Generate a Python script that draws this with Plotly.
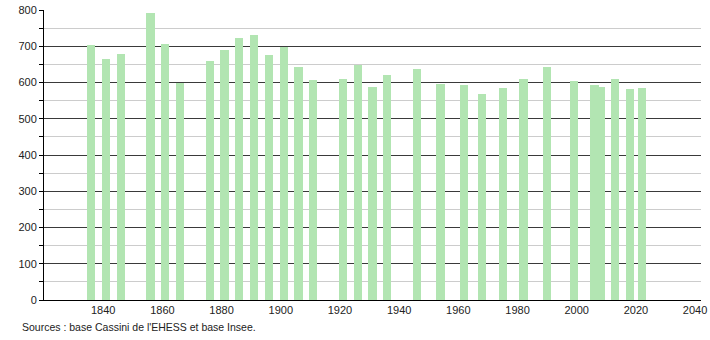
import plotly.graph_objects as go

years = [1836, 1841, 1846, 1856, 1861, 1866, 1876, 1881, 1886, 1891, 1896, 1901,
         1906, 1911, 1921, 1926, 1931, 1936, 1946, 1954, 1962, 1968, 1975, 1982,
         1990, 1999, 2006, 2008, 2013, 2018, 2022]
population = [703, 664, 680, 791, 705, 599, 658, 691, 724, 730, 677, 699,
              644, 608, 610, 649, 587, 621, 638, 597, 592, 567, 584, 611,
              644, 603, 592, 588, 610, 581, 584]
x_ticks = [1840, 1860, 1880, 1900, 1920, 1940, 1960, 1980, 2000, 2020, 2040]
source_text = "Sources : base Cassini de l'EHESS et base Insee."

W, H = 710, 340
ml, mr, mt, mb = 44, 9, 10, 40

fig = go.Figure()
fig.add_trace(go.Bar(
    x=years, y=population, width=2.8,
    marker=dict(color="rgb(178,229,178)", line=dict(width=0)),
    hoverinfo="x+y",
))

fig.update_layout(
    width=W, height=H,
    margin=dict(l=ml, r=mr, t=mt, b=mb, autoexpand=False),
    plot_bgcolor="white", paper_bgcolor="white",
    showlegend=False,
    font=dict(family="Liberation Sans, Arial, sans-serif", size=11, color="#222"),
    bargap=0,
    xaxis=dict(range=[1820, 2042], tickmode="array", tickvals=x_ticks,
               ticktext=[str(v) for v in x_ticks], showgrid=False, automargin=False,
               showline=True, linecolor="black", linewidth=1, ticks="",
               zeroline=False, tickfont=dict(size=11)),
    yaxis=dict(range=[0, 800], dtick=100, showgrid=True, gridcolor="#3a3a3a",
               gridwidth=1, showline=True, linecolor="black", linewidth=1,
               automargin=False,
               ticks="outside", ticklen=4, tickcolor="black", zeroline=False,
               tickfont=dict(size=11),
               minor=dict(dtick=50, showgrid=True, gridcolor="#cccccc",
                          ticks="outside", ticklen=4, tickcolor="black")),
    annotations=[dict(text=source_text, xref="paper", yref="paper",
                      x=(20 - ml) / (W - ml - mr), y=(H - mb - 327) / (H - mt - mb),
                      xanchor="left", yanchor="middle", showarrow=False,
                      font=dict(size=10.5, color="#222"))],
)

fig.write_html("out.html")
